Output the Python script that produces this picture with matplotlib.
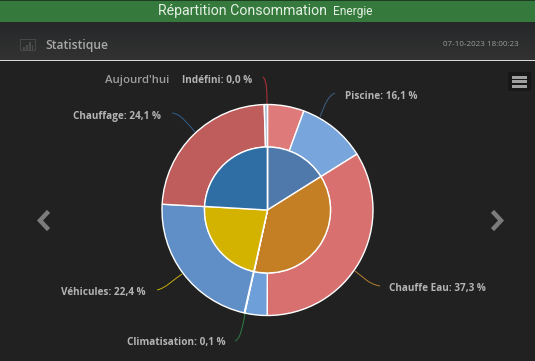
import numpy as np
import matplotlib
matplotlib.use("Agg")
import matplotlib.pyplot as plt
from matplotlib.patches import Rectangle, PathPatch
from matplotlib.path import Path

# Data
inner_labels = ['Piscine', 'Chauffe Eau', 'Climatisation', 'Véhicules', 'Chauffage', 'Indéfini']
inner_values = [16.1, 37.3, 0.1, 22.4, 24.1, 0.0]
inner_colors = ['#4f79ab', '#c47f25', '#3f8f4f', '#d4b300', '#2f6ea5', '#c0392b']
outer_values = [5.6, 10.5, 33.9, 3.4, 0.1, 22.3, 23.6, 0.5]
outer_colors = ['#df7a7a', '#78a6dc', '#d87070', '#6f9fd8', '#6f9fd8', '#5f8fc6', '#bf5c5c', '#a9bdd6']

label_text = ['Indéfini: 0,0 %', 'Piscine: 16,1 %', 'Chauffe Eau: 37,3 %', 'Climatisation: 0,1 %',
              'Véhicules: 22,4 %', 'Chauffage: 24,1 %']
label_pos = [(217, 80), (381, 96), (437, 289), (176, 342), (103, 292), (117, 116)]
line_colors = ['#b8323a', '#3f5f85', '#b5822e', '#2f7d45', '#c9ad10', '#2f5f8f']
curves = [
    ((263, 77), (267, 81), (267, 92), (267, 104)),
    ((335, 93), (328, 96), (325, 104), (320, 117)),
    ((380, 286), (368, 284), (362, 276), (355, 271)),
    ((235, 341), (241, 338), (242, 328), (245, 314)),
    ((157, 290), (166, 288), (173, 280), (182, 274)),
    ((172, 113), (181, 114), (187, 123), (195, 132)),
]

fig = plt.figure(figsize=(5.35, 3.61), dpi=100, facecolor='#212121')
ax = fig.add_axes([0, 0, 1, 1])
plt.rcParams['font.family'] = 'Open Sans'


def y(v):
    return 361 - v


# Header bands
ax.add_patch(Rectangle((0, y(22)), 535, 21, color='#357a3c', lw=0))
ax.add_patch(Rectangle((0, y(1)), 535, 1, color='#1d3d20', lw=0))
ax.imshow(np.linspace(0, 1, 38).reshape(-1, 1), cmap=matplotlib.colors.LinearSegmentedColormap.from_list('h', ['#262829', '#323232']),
          extent=(0, 535, y(60), y(22)), aspect='auto', zorder=0)
ax.add_patch(Rectangle((0, y(61)), 535, 1.3, color='#d8d8d8', lw=0))

ax.text(157.5, y(11), 'Répartition Consommation', color='#e4efe4', fontsize=10.2, family='Roboto', va='center')
ax.text(332.5, y(12), 'Energie', color='#e4efe4', fontsize=8.6, family='Roboto', va='center')
ax.text(45, y(45), 'Statistique', color='#a8a8a8', fontsize=8.7, fontweight='semibold', va='center')
ax.text(519, y(44), '07-10-2023 18:00:23', color='#9a9a9a', fontsize=5.8, ha='right', va='center')
ax.text(137, y(80), "Aujourd'hui", color='#9e9e9e', fontsize=8.2, fontweight='semibold', ha='center', va='center')

# Stats icon
ax.add_patch(Rectangle((20, y(50)), 15, 11, fill=False, ec='#484848', lw=0.7))
for bx, bh in zip([23, 26, 29, 31.5], [3, 5, 8, 5]):
    ax.add_patch(Rectangle((bx, y(49.5)), 1.5, bh, color='#4c4c4c', lw=0))

# Menu button
ax.add_patch(Rectangle((508, y(91)), 23, 19, color='#181818', lw=0))
for my in [77, 81.5, 86]:
    ax.add_patch(Rectangle((512, y(my + 1.5)), 15, 3, color='#a0a0a0', lw=0))

# Navigation arrows
ax.plot([47, 40, 47], [y(213), y(220.5), y(228)], color='#7c7c7c', lw=3.2, solid_joinstyle='miter')
ax.plot([494, 501, 494], [y(213), y(220.5), y(228)], color='#7c7c7c', lw=3.2, solid_joinstyle='miter')

# Connectors
for pts, c in zip(curves, line_colors):
    path = Path([(px, y(py)) for px, py in pts], [Path.MOVETO, Path.CURVE4, Path.CURVE4, Path.CURVE4])
    ax.add_patch(PathPatch(path, fill=False, ec=c, lw=0.7))

# Pies
center = (267.5, y(210))
wedge = {'edgecolor': 'white', 'linewidth': 1.0}
ax.pie(outer_values, colors=outer_colors, radius=105.5, center=center, startangle=90, counterclock=False,
       normalize=True, wedgeprops=dict(width=42.5, **wedge), frame=True)
ax.pie(inner_values, colors=inner_colors, radius=63, center=center, startangle=90, counterclock=False,
       normalize=True, wedgeprops=wedge, frame=True)

for txt, (lx, ly) in zip(label_text, label_pos):
    ax.text(lx, y(ly), txt, color='#b4b4b4', fontsize=7.2, fontweight='bold', ha='center', va='center')

ax.set_xlim(0, 535)
ax.set_ylim(0, 361)
ax.axis('off')
fig.savefig('out.png', dpi=100, facecolor=fig.get_facecolor())
